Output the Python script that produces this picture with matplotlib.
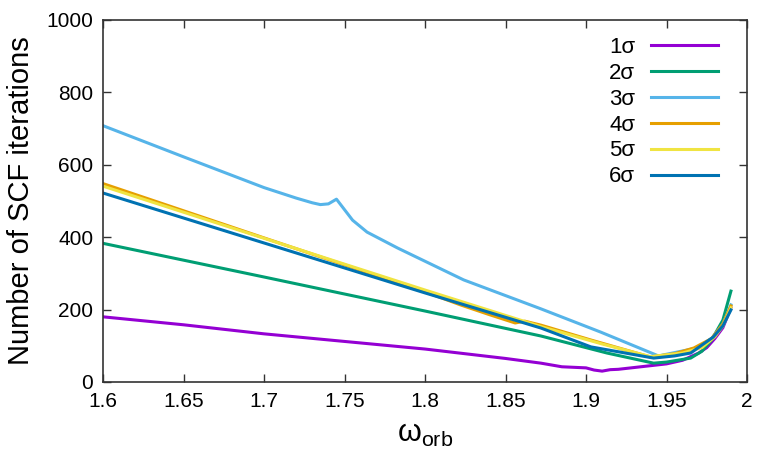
import numpy as np
import matplotlib
matplotlib.use("Agg")
import matplotlib.pyplot as plt

plt.rcParams['font.family'] = ['Liberation Sans', 'DejaVu Sans']
plt.rcParams['mathtext.fontset'] = 'custom'
plt.rcParams['mathtext.rm'] = 'Liberation Sans'
plt.rcParams['mathtext.it'] = 'Liberation Sans'

# 1σ
x1 = [1.6, 1.65, 1.7, 1.75, 1.8, 1.85, 1.872, 1.885, 1.89, 1.9, 1.905, 1.91, 1.915,
      1.92, 1.93, 1.94, 1.95, 1.96, 1.97, 1.975, 1.98, 1.985, 1.99]
y1 = [180, 158, 133, 112, 91, 65, 52, 42, 41, 39, 33, 30, 34,
      35, 40, 45, 50, 60, 80, 95, 120, 150, 205]
# 2σ
x2 = [1.6, 1.7, 1.8, 1.872, 1.913, 1.942, 1.95, 1.965, 1.972, 1.978, 1.985, 1.99]
y2 = [383, 290, 196, 127, 80, 52, 55, 66, 85, 116, 171, 251]
# 3σ
x3 = [1.6, 1.65, 1.7, 1.72, 1.73, 1.735, 1.74, 1.745, 1.755, 1.764, 1.783, 1.824,
      1.872, 1.909, 1.945, 1.969, 1.978, 1.985, 1.99]
y3 = [708, 622, 537, 508, 495, 490, 492, 505, 447, 414, 370, 282,
      202, 138, 72, 94, 120, 160, 213]
# 4σ
x4 = [1.6, 1.7, 1.8, 1.822, 1.84, 1.856, 1.862, 1.872, 1.903, 1.94, 1.955,
      1.967, 1.978, 1.985, 1.99]
y4 = [548, 398, 249, 213, 186, 163, 168, 157, 116, 69, 78,
      94, 120, 160, 210]
# 5σ
x5 = [1.6, 1.7, 1.8, 1.872, 1.91, 1.94, 1.96, 1.972, 1.98, 1.985, 1.99]
y5 = [541, 397, 254, 153, 105, 70, 80, 95, 125, 155, 205]
# 6σ
x6 = [1.6, 1.7, 1.8, 1.872, 1.903, 1.942, 1.955, 1.965, 1.979, 1.985, 1.99]
y6 = [522, 384, 246, 149, 97, 66, 72, 80, 124, 155, 199]

series = [(x1, y1, '1σ', '#9400d3'),
          (x2, y2, '2σ', '#009e73'),
          (x3, y3, '3σ', '#56b4e9'),
          (x4, y4, '4σ', '#e69f00'),
          (x5, y5, '5σ', '#f0e442'),
          (x6, y6, '6σ', '#0072b2')]

fig = plt.figure(figsize=(7.81, 4.68), dpi=100)
ax = fig.add_axes([0.1319, 0.1838, 0.8246, 0.7735])

for xs, ys, lab, col in series:
    ax.plot(xs, ys, color=col, lw=2.2, label=lab)

ax.set_xlim(1.6, 2.0)
ax.set_ylim(0, 1000)
ax.set_xticks([1.6, 1.65, 1.7, 1.75, 1.8, 1.85, 1.9, 1.95, 2.0])
ax.set_xticklabels(['1.6', '1.65', '1.7', '1.75', '1.8', '1.85', '1.9', '1.95', '2'])
ax.set_yticks([0, 200, 400, 600, 800, 1000])
ax.tick_params(direction='in', length=6, width=1, top=True, right=True,
               labelsize=15, pad=7, colors='#333333', labelcolor='black')
for sp in ax.spines.values():
    sp.set_linewidth(1.2)
    sp.set_color('#333333')

ax.set_xlabel(r'$\mathrm{\omega_{orb}}$', fontsize=22, labelpad=6)
ax.set_ylabel('Number of SCF iterations', fontsize=21, labelpad=8)

leg = ax.legend(loc='upper right', bbox_to_anchor=(0.975, 0.99), frameon=False,
                markerfirst=False, fontsize=16, handlelength=3.0,
                handletextpad=0.7, labelspacing=0.22, borderaxespad=0.2)

fig.savefig('out.png', dpi=100)
